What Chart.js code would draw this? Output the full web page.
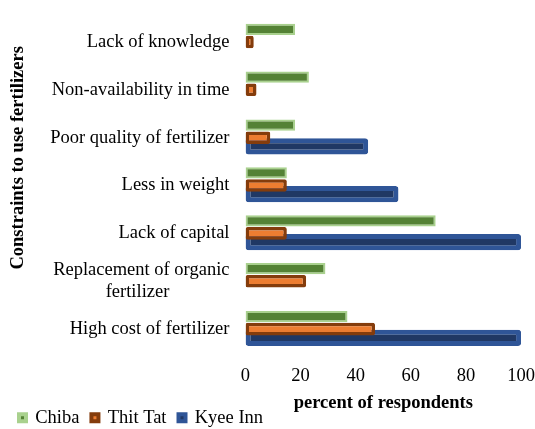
<!DOCTYPE html>
<html>
<head>
<meta charset="utf-8">
<script src="https://cdn.jsdelivr.net/npm/chart.js@4/dist/chart.umd.min.js"></script>
<style>
  html, body { margin: 0; padding: 0; background: #fff; }
  #wrap { width: 535px; height: 429px; }
</style>
</head>
<body>
<div id="wrap"><canvas id="chart"></canvas></div>
<script>
// Constraints to use fertilizers, by village
const categories = [
  'Lack of knowledge',
  'Non-availability in time',
  'Poor quality of fertilizer',
  'Less in weight',
  'Lack of capital',
  ['Replacement of organic', 'fertilizer             '],
  'High cost of fertilizer'
];
const chibaValues = [18, 23, 18, 15, 69, 29, 37];
const thitTatValues = [3, 4, 9, 15, 15, 22, 47];
const kyeeInnValues = [0, 0, 44.5, 55.5, 100, 0, 100];
const xTicks = [0, 20, 40, 60, 80, 100];

const serif = "'Liberation Serif', 'Times New Roman', serif";
const fontSize = 18.5;

const ctx = document.getElementById('chart').getContext('2d');
const chart = new Chart(ctx, {
  type: 'bar',
  data: {
    labels: categories,
    datasets: [
      {
        label: 'Chiba',
        data: chibaValues,
        backgroundColor: '#548235',
        borderColor: '#A9D18E',
        borderWidth: 2,
        borderSkipped: false,
        categoryPercentage: 0.79,
        barPercentage: 0.9
      },
      {
        label: 'Thit Tat',
        data: thitTatValues,
        backgroundColor: '#ED7D31',
        borderColor: '#843C0C',
        borderWidth: 3.5,
        borderRadius: 2,
        borderSkipped: false,
        categoryPercentage: 0.79,
        barPercentage: 1.0
      },
      {
        label: 'Kyee Inn',
        data: kyeeInnValues,
        backgroundColor: '#203864',
        borderColor: '#2F5597',
        borderWidth: 5,
        borderRadius: 3,
        borderSkipped: false,
        categoryPercentage: 0.54,
        barPercentage: 1.88
      }
    ]
  },
  options: {
    indexAxis: 'y',
    responsive: true,
    maintainAspectRatio: false,
    animation: false,
    layout: { padding: { top: 18, right: 1, left: 7, bottom: -8 } },
    scales: {
      x: {
        min: 0,
        max: 100,
        afterBuildTicks: (axis) => { axis.ticks = xTicks.map(v => ({ value: v })); },
        grid: { display: false, drawTicks: true, tickLength: 12 },
        border: { display: false },
        ticks: { color: '#000', font: { family: serif, size: fontSize }, padding: 0 },
        title: {
          display: true,
          text: 'percent of respondents',
          color: '#000',
          font: { family: serif, size: fontSize, weight: 'bold' },
          padding: { top: 5, bottom: -18 }
        }
      },
      y: {
        grid: { display: false, drawTicks: true, tickLength: 16 },
        border: { display: false },
        ticks: { color: '#000', font: { family: serif, size: fontSize }, padding: 0, autoSkip: false },
        title: {
          display: true,
          text: '            Constraints to use fertilizers',
          color: '#000',
          font: { family: serif, size: fontSize, weight: 'bold' },
          padding: { top: 0, bottom: 21 }
        }
      }
    },
    plugins: {
      legend: {
        position: 'bottom',
        align: 'start',
        labels: {
          color: '#000',
          font: { family: serif, size: fontSize },
          boxWidth: 7,
          boxHeight: 7,
          padding: 12,
          generateLabels: (c) => {
            const items = Chart.defaults.plugins.legend.labels.generateLabels(c);
            items.forEach(item => { item.lineWidth = 4; });
            return items;
          }
        }
      },
      tooltip: { enabled: false }
    }
  }
});
</script>
</body>
</html>
